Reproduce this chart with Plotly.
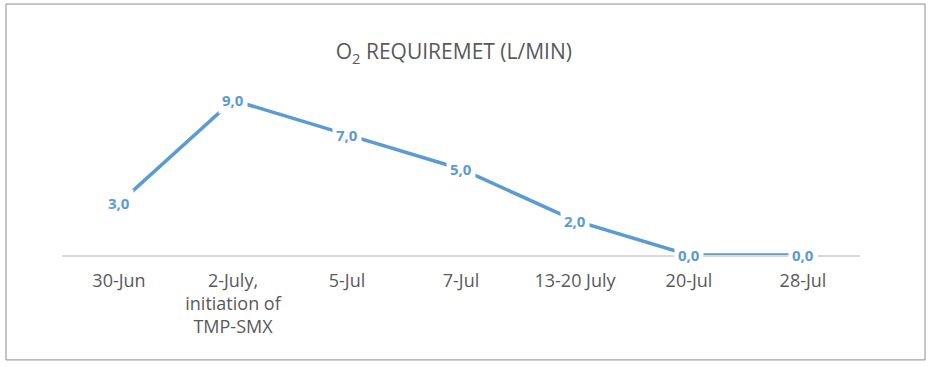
import plotly.graph_objects as go

categories = ["30-Jun", "2-July,<br>initiation of<br>TMP-SMX", "5-Jul", "7-Jul", "13-20 July", "20-Jul", "28-Jul"]
o2_values = [3.0, 9.0, 7.0, 5.0, 2.0, 0.0, 0.0]
value_labels = ["3,0", "9,0", "7,0", "5,0", "2,0", "0,0", "0,0"]

blue = "#5B9BD5"
grey_text = "#595959"

fig = go.Figure()
fig.add_trace(go.Scatter(
    x=list(range(len(categories))), y=o2_values, mode="lines",
    line=dict(color=blue, width=3.5), hoverinfo="skip", showlegend=False,
))

for i, (v, lab) in enumerate(zip(o2_values, value_labels)):
    fig.add_annotation(
        x=i, y=v, xref="x", yref="y", text="<b>" + lab + "</b>", showarrow=False,
        font=dict(family="Open Sans, sans-serif", size=15, color=blue),
        bgcolor="white", borderpad=3,
    )

# outer chart border
fig.add_shape(type="rect", xref="paper", yref="paper",
              x0=-0.0702, x1=1.0815, y0=-0.610, y1=1.459,
              line=dict(color="#8C8C8C", width=1), fillcolor="rgba(0,0,0,0)", layer="below")

fig.update_layout(
    width=931, height=367,
    margin=dict(l=62, r=71, t=83, b=112),
    paper_bgcolor="white", plot_bgcolor="white",
    title=dict(text="O<sub>2</sub> REQUIREMET (L/MIN)", x=0.4875, xanchor="center",
               y=1 - 52 / 367, yanchor="middle",
               font=dict(family="Open Sans, sans-serif", size=21, color=grey_text)),
    xaxis=dict(
        tickmode="array", tickvals=list(range(len(categories))), ticktext=categories,
        range=[-0.5, len(categories) - 0.5], showgrid=False, zeroline=False,
        showline=True, linecolor="#D9D9D9", linewidth=2,
        ticks="", ticklabelstandoff=8,
        tickfont=dict(family="Open Sans, sans-serif", size=18, color=grey_text),
        fixedrange=True,
    ),
    yaxis=dict(range=[0, 10], visible=False, fixedrange=True),
)

fig.write_html("out.html", config={"displayModeBar": False},
               post_script="document.body.style.margin='0px';document.body.style.overflow='hidden';")
